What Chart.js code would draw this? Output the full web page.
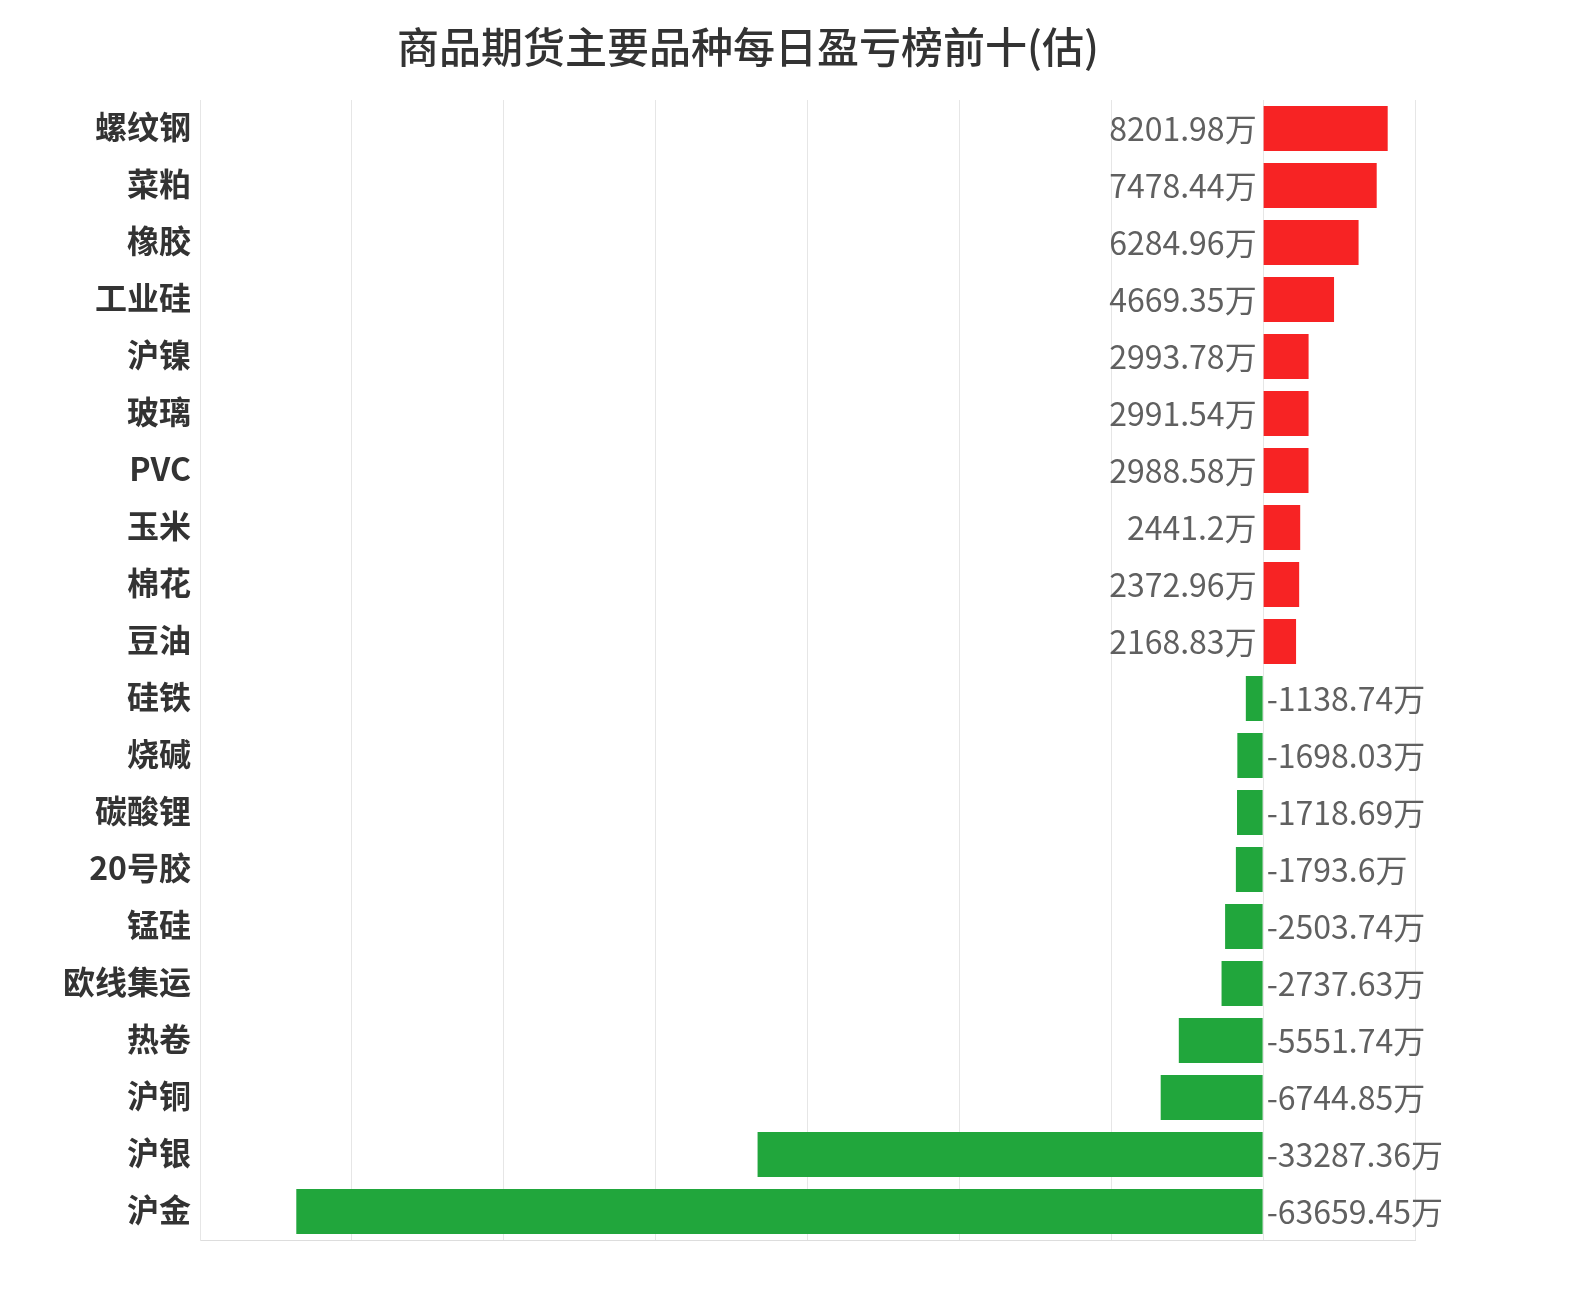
<!DOCTYPE html>
<html>
<head>
<meta charset="utf-8">
<script src="https://cdn.jsdelivr.net/npm/chart.js@4.4.1/dist/chart.umd.min.js"></script>
<style>
  body { margin: 0; background: #fff; }
  #wrap { width: 1572px; height: 1300px; }
</style>
</head>
<body>
<div id="wrap"><canvas id="myChart"></canvas></div>
<script>
// 品种 + 盈亏(万)
const categories = ['螺纹钢', '菜粕', '橡胶', '工业硅', '沪镍', '玻璃', 'PVC', '玉米', '棉花', '豆油',
    '硅铁', '烧碱', '碳酸锂', '20号胶', '锰硅', '欧线集运', '热卷', '沪铜', '沪银', '沪金'];
const values = [8201.98, 7478.44, 6284.96, 4669.35, 2993.78, 2991.54, 2988.58, 2441.2, 2372.96, 2168.83,
    -1138.74, -1698.03, -1718.69, -1793.6, -2503.74, -2737.63, -5551.74, -6744.85, -33287.36, -63659.45];
const titleText = '商品期货主要品种每日盈亏榜前十(估)';

const FONT = '"Noto Sans CJK SC", "Noto Sans", sans-serif';

// title drawn by hand so it can sit where the original one is
const titlePlugin = {
    id: 'titlePlugin',
    afterDraw(chart) {
        const ctx = chart.ctx;
        ctx.save();
        ctx.font = '500 42px ' + FONT;
        ctx.fillStyle = '#333';
        ctx.textAlign = 'center';
        ctx.textBaseline = 'middle';
        ctx.fillText(titleText, 748, 47);
        ctx.restore();
    }
};

// draw value labels next to the zero line
const valueLabels = {
    id: 'valueLabels',
    afterDatasetsDraw(chart) {
        const ctx = chart.ctx;
        const meta = chart.getDatasetMeta(0);
        ctx.save();
        ctx.font = '32px ' + FONT;
        ctx.fillStyle = '#606060';
        ctx.textBaseline = 'middle';
        meta.data.forEach((bar, i) => {
            const v = values[i];
            const txt = v + '万';
            if (v >= 0) {
                ctx.textAlign = 'right';
                ctx.fillText(txt, bar.base - 7, bar.y);
            } else {
                ctx.textAlign = 'left';
                ctx.fillText(txt, bar.base + 4, bar.y);
            }
        });
        ctx.restore();
    }
};

const data = {
    labels: categories,
    datasets: [{
        data: values,
        backgroundColor: values.map(v => v >= 0 ? '#f72324' : '#21a63c'),
        barPercentage: 0.79,
        categoryPercentage: 1
    }]
};

const config = {
    type: 'bar',
    data: data,
    options: {
        indexAxis: 'y',
        responsive: true,
        maintainAspectRatio: false,
        animation: false,
        layout: {
            padding: { left: 0, right: 157, top: 100, bottom: 60 }
        },
        plugins: {
            legend: { display: false },
            tooltip: { enabled: false },
            title: { display: false }
        },
        scales: {
            x: {
                min: -70000,
                max: 10000,
                ticks: { display: false, stepSize: 10000 },
                grid: { color: '#e6e6e6', drawTicks: false },
                border: { display: true, color: '#dddddd' },
                afterFit(scale) { scale.height = 0; }
            },
            y: {
                ticks: {
                    color: '#333',
                    padding: 9,
                    labelOffset: -2,
                    font: { family: FONT, size: 32, weight: 'bold' }
                },
                grid: { display: false, drawTicks: false },
                border: { display: true, color: '#e6e6e6' },
                afterFit(scale) { scale.width = 200; }
            }
        }
    },
    plugins: [valueLabels, titlePlugin]
};

const ctx = document.getElementById('myChart').getContext('2d');
new Chart(ctx, config);
</script>
</body>
</html>
